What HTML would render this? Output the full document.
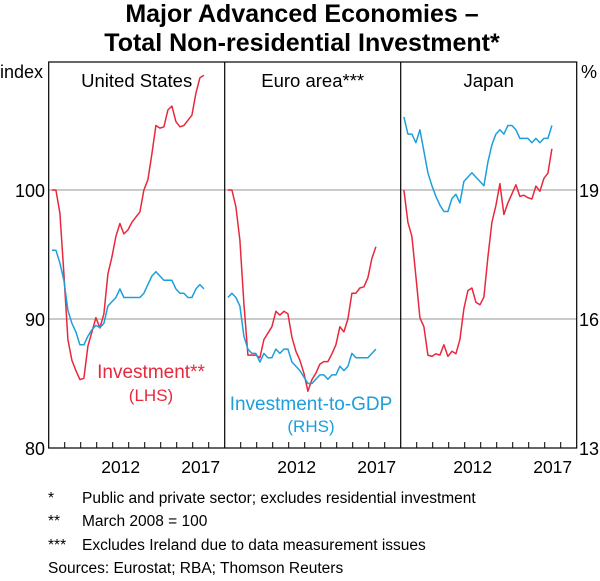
<!DOCTYPE html>
<html><head><meta charset="utf-8"><style>
body{margin:0;background:#fff;}
svg text{font-family:"Liberation Sans",Arial,sans-serif;}
</style></head><body>
<svg id="chart" width="600" height="576" xmlns="http://www.w3.org/2000/svg">
<text x="302" y="22" text-anchor="middle" font-size="25" font-weight="bold">Major Advanced Economies –</text>
<text x="302" y="51" text-anchor="middle" font-size="25" font-weight="bold">Total Non-residential Investment*</text>
<g id="plot"></g>
<text x="0" y="78" font-size="18">index</text>
<text x="581" y="78" font-size="18">%</text>
<text x="151" y="378" text-anchor="middle" font-size="19" fill="#e8283c">Investment**</text>
<text x="151" y="401" text-anchor="middle" font-size="17" fill="#e8283c">(LHS)</text>
<text x="311" y="410" text-anchor="middle" font-size="19" fill="#1c9fdc">Investment-to-GDP</text>
<text x="311" y="432" text-anchor="middle" font-size="17" fill="#1c9fdc">(RHS)</text>
<text x="48" y="503" font-size="15.5">*</text>
<text x="82" y="503" font-size="15.5">Public and private sector; excludes residential investment</text>
<text x="48" y="526" font-size="15.5">**</text>
<text x="82" y="526" font-size="15.5">March 2008 = 100</text>
<text x="48" y="550" font-size="15.5">***</text>
<text x="82" y="550" font-size="15.5">Excludes Ireland due to data measurement issues</text>
<text x="48" y="573" font-size="15.5">Sources: Eurostat; RBA; Thomson Reuters</text>
</svg>
<script>
const panelNames=["United States","Euro area***","Japan"];
const lhsTicks=[80,90,100];
const rhsTicks=[13,16,19];
const yearLabels=[2012,2017];
const usInvest=[100,100,98.2,93.5,88.4,86.8,86,85.3,85.4,87.9,89,90.1,89.3,90.4,93.5,94.8,96.4,97.4,96.6,96.9,97.5,97.9,98.3,100,100.8,102.8,105,104.8,104.9,106.2,106.5,105.3,104.9,105,105.4,105.8,107.5,108.7,108.9];
const usRatio=[17.6,17.6,17.3,16.9,16.2,15.9,15.7,15.4,15.4,15.6,15.75,15.85,15.8,15.9,16.3,16.4,16.5,16.7,16.5,16.5,16.5,16.5,16.5,16.6,16.8,17.0,17.1,17.0,16.9,16.9,16.9,16.7,16.6,16.6,16.5,16.5,16.7,16.8,16.7];
const euInvest=[100,100,98.7,96.1,91.2,87.2,87.2,87.2,87,88.4,88.9,89.4,90.6,90.3,90.6,90.4,88.6,87.5,86.8,85.8,84.4,85.3,85.8,86.5,86.7,86.7,87.3,88,89.4,89,90,92,92,92.4,92.5,93.2,94.7,95.6];
const euRatio=[16.5,16.6,16.5,16.3,15.6,15.3,15.2,15.2,15.0,15.2,15.1,15.1,15.3,15.2,15.3,15.3,15.0,14.9,14.8,14.65,14.5,14.5,14.6,14.7,14.7,14.6,14.7,14.7,14.9,14.8,14.9,15.2,15.1,15.1,15.1,15.1,15.2,15.3];
const jpInvest=[100,97.5,96.4,93.3,90.1,89.4,87.2,87.1,87.3,87.2,88,87.1,87.5,87.3,88.4,90.8,92.2,92.4,91.3,91.1,91.7,94.8,97.5,98.8,100.5,98.1,99,99.7,100.4,99.5,99.6,99.4,99.3,100.3,99.9,100.9,101.3,103.2];
const jpRatio=[20.7,20.3,20.3,20.1,20.4,19.9,19.4,19.1,18.85,18.65,18.5,18.5,18.8,18.9,18.7,19.2,19.3,19.4,19.3,19.2,19.1,19.65,20.05,20.3,20.4,20.3,20.5,20.5,20.4,20.2,20.2,20.2,20.1,20.2,20.1,20.2,20.2,20.5];

const NS="http://www.w3.org/2000/svg";
const g=document.getElementById('plot');
const L=48.7,PW=176,TOP=62,BOT=448,START=2008,PPY=16;
const yL=v=>BOT-(v-80)*(BOT-190)/20;
const yR=v=>BOT-(v-13)*(BOT-190)/6;
const xT=(p,t)=>L+p*PW+(t-START)*PPY;
const tIdx=i=>2008.2+0.25*i;
function mk(tag,attrs){const e=document.createElementNS(NS,tag);for(const k in attrs)e.setAttribute(k,attrs[k]);g.appendChild(e);return e;}
[90,100].forEach(v=>{
 const e=mk('line',{x1:L,x2:L+3*PW,y1:yL(v),y2:yL(v),stroke:'#aaa','stroke-width':1.3});
 
 
});
lhsTicks.forEach(v=>{
 const t=mk('text',{x:45,y:yL(v)+7,'text-anchor':'end','font-size':18});t.textContent=v;
 
 
});
rhsTicks.forEach(v=>{
 const t=mk('text',{x:579,y:yR(v)+7,'font-size':18});t.textContent=v;
 
 
});
for(let p=0;p<3;p++){
 for(let y=2009;y<=2018;y++){
  const e=mk('line',{x1:xT(p,y),x2:xT(p,y),y1:BOT,y2:BOT-6,stroke:'#000','stroke-width':1});
  
  
 }
 yearLabels.forEach(y=>{
  const t=mk('text',{x:xT(p,y+0.5),y:473,'text-anchor':'middle','font-size':17.5});t.textContent=y;
  
  
 });
 const t=mk('text',{x:L+p*PW+PW/2,y:87,'text-anchor':'middle','font-size':18.5});t.textContent=panelNames[p];
 
 
}
const series=[[0,usInvest,yL,'#e8283c','us-investment'],[0,usRatio,yR,'#1c9fdc','us-investment-to-gdp'],[1,euInvest,yL,'#e8283c','euro-investment'],[1,euRatio,yR,'#1c9fdc','euro-investment-to-gdp'],[2,jpInvest,yL,'#e8283c','japan-investment'],[2,jpRatio,yR,'#1c9fdc','japan-investment-to-gdp']];
series.forEach(([p,d,sc,c,n])=>{
 const pts=d.map((v,i)=>xT(p,tIdx(i)).toFixed(1)+','+sc(v).toFixed(1)).join(' ');
 const e=mk('polyline',{points:pts,fill:'none',stroke:c,'stroke-width':1.5,'stroke-linejoin':'round'});
 
 
});
const fr=mk('rect',{x:L,y:TOP,width:3*PW,height:BOT-TOP,fill:'none',stroke:'#000','stroke-width':1.2});


[1,2].forEach(p=>{
 const e=mk('line',{x1:L+p*PW,x2:L+p*PW,y1:TOP,y2:BOT,stroke:'#000','stroke-width':1.2});
 
 
});
</script>
</body></html>
